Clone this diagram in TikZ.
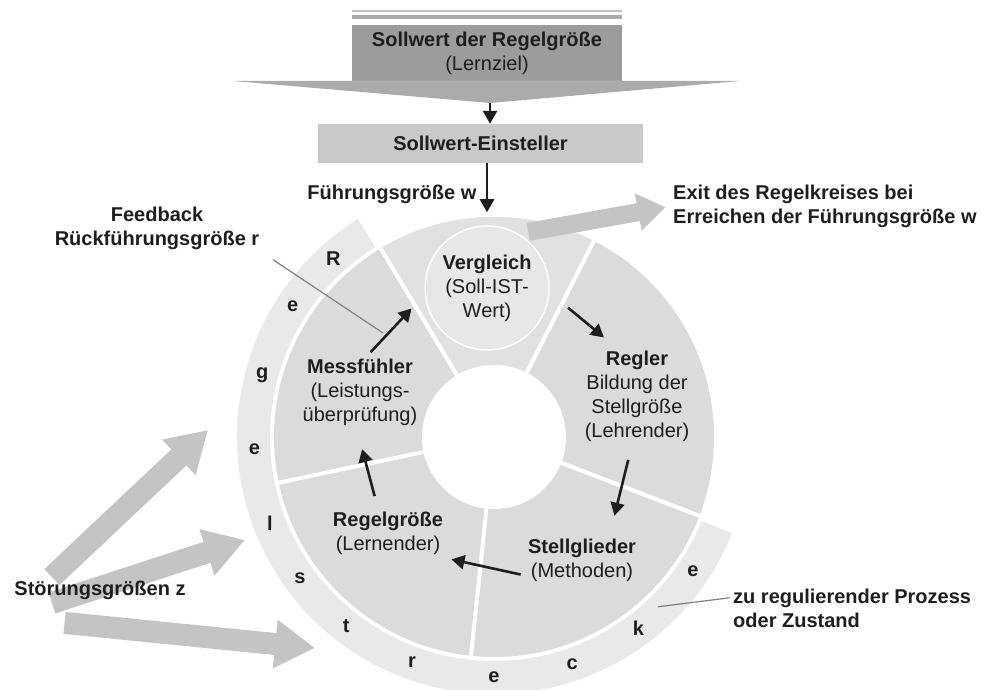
\documentclass[tikz,border=0pt]{standalone}
\usepackage{fontspec}
\setmainfont{Liberation Sans}
\usetikzlibrary{arrows.meta,calc,backgrounds}
\definecolor{ringgray}{HTML}{E9E9E9}
\definecolor{secgray}{HTML}{DBDBDB}
\definecolor{vglgray}{HTML}{E1E1E1}
\definecolor{circgray}{HTML}{E7E7E7}
\definecolor{arrgray}{HTML}{C4C4C4}
\definecolor{topgray}{HTML}{9C9C9C}
\definecolor{winggray}{HTML}{ABABAB}
\definecolor{boxgray}{HTML}{C9C9C9}
\definecolor{ink}{HTML}{1E1E1E}
\begin{document}
\begin{tikzpicture}[x=1pt, y=1pt,
    every node/.style={font=\fontsize{20}{24}\selectfont, text=ink, align=center},
    bf/.style={font=\fontsize{20}{24}\selectfont\bfseries},
    blk/.style={draw=ink, line width=2.6pt, -{Triangle[length=13pt,width=14pt]}},
    fat/.style={draw=arrgray, line width=22pt, -{Triangle[length=40pt,width=46pt]}},
    exitarr/.style={draw=arrgray, line width=18pt, -{Triangle[length=28pt,width=36pt]}},
    gap/.style={draw=white, line width=4pt},
    pin/.style={draw=gray, line width=1.2pt}]
    \useasboundingbox (0,0) rectangle (986,690);
    \coordinate (C) at (494,253);
    \fill[ringgray] ($(C)+(122:257)$) arc[start angle=122, end angle=338, radius=257pt]
        -- ($(C)+(338:224)$) arc[start angle=338, end angle=122, radius=224pt] -- cycle;
    \fill[secgray] (C) circle[radius=220pt];
    \fill[vglgray] (C) -- ($(C)+(63:220)$) arc[start angle=63, end angle=121, radius=220pt]
        -- cycle;
    \draw[gap] (C) -- ($(C)+(63:222)$) (C) -- ($(C)+(121:222)$) (C) -- ($(C)+(192:222)$)
        (C) -- ($(C)+(264:222)$) (C) -- ($(C)+(339:222)$);
    \fill[white] (C) circle[radius=72pt];

    \node[bf] (St1) at ($(C)+(132:240)$) {R};
    \node[bf] (St2) at ($(C)+(147:240)$) {e};
    \node[bf] (St3) at ($(C)+(165:240)$) {g};
    \node[bf] (St4) at ($(C)+(183:240)$) {e};
    \node[bf] (St5) at ($(C)+(201:240)$) {l};
    \node[bf] (St6) at ($(C)+(216:240)$) {s};
    \node[bf] (St7) at ($(C)+(232:240)$) {t};
    \node[bf] (St8) at ($(C)+(250:240)$) {r};
    \node[bf] (St9) at ($(C)+(270:240)$) {e};
    \node[bf] (St10) at ($(C)+(289:240)$) {c};
    \node[bf] (St11) at ($(C)+(307:240)$) {k};
    \node[bf] (St12) at ($(C)+(326:240)$) {e};

    \node[circle, minimum size=124pt, inner sep=0pt, fill=circgray, draw=white,
        line width=1.5pt] (Vgl) at (487,402) {\textbf{Vergleich}\\(Soll-IST-\\Wert)};
    \node (Rgl) at (637,293.5) {\textbf{Regler}\\Bildung der\\Stellgröße\\(Lehrender)};
    \node (Stg) at (582,130) {\textbf{Stellglieder}\\(Methoden)};
    \node (Rgr) at (388,156.5) {\textbf{Regelgröße}\\(Lernender)};
    \node (Msf) at (360,298) {\textbf{Messfühler}\\(Leistungs-\\überprüfung)};

    \node[bf] (Fb) at (157,462) {Feedback\\Rückführungsgröße r};
    \coordinate (FbEnd) at (383,357);
    \draw[pin, shorten <=12pt] (Fb.south east) -- (FbEnd);

    \draw[blk, shorten <=24pt, shorten >=16pt] (Vgl.-4) -- (Rgl.113);
    \draw[blk, shorten <=15pt, shorten >=20pt] (Rgl.264) -- (Stg.42);
    \draw[blk, shorten <=4pt, shorten >=5pt] (Stg.195) -- (Rgr.-23);
    \draw[blk, shorten <=13pt, shorten >=21pt] (Rgr.112) -- (Msf.265);
    \draw[blk, shorten <=4pt, shorten >=19pt] (Msf.78) -- (Vgl.186);

    \node[fill=topgray, minimum width=270pt, minimum height=56pt] (Sw) at (487,637)
        {\textbf{Sollwert der Regelgröße}\\(Lernziel)};
    \draw[draw=lightgray, line width=1.6pt] ([yshift=14pt]Sw.north west)
        -- ([yshift=14pt]Sw.north east);
    \draw[draw=winggray, line width=3.5pt] ([yshift=8pt]Sw.north west)
        -- ([yshift=8pt]Sw.north east);
    \coordinate (SwTip) at (490,587);
    \fill[winggray] (233,609) -- (740,609) -- (SwTip) -- cycle;
    \node[fill=boxgray, minimum width=325pt, minimum height=39pt] (SwE) at (480.5,546.5)
        {\textbf{Sollwert-Einsteller}};
    \draw[blk] (SwTip) -- (SwTip |- SwE.north);
    \draw[blk, shorten >=13pt] (Vgl.north |- SwE.south) -- (Vgl.north)
        node[bf, midway, left, xshift=-6pt] (Fw) {Führungsgröße w};

    \node[bf, anchor=west, align=left] (Exit) at (669.7,483.5)
        {Exit des Regelkreises bei\\Erreichen der Führungsgröße w};
    \draw[exitarr, shorten <=10pt, shorten >=4pt] (Vgl.60) -- (Exit.west);

    \node[bf, anchor=west, align=left] (Proz) at (729.7,81.5)
        {zu regulierender Prozess\\oder Zustand};
    \coordinate (StrPt) at ($(C)+(314:236)$);
    \draw[pin] (Proz.175) -- (StrPt);

    \node[bf] (Stz) at (100,100) {Störungsgrößen z};
    \coordinate (Z1) at (208,260);
    \coordinate (Z2) at (245,150);
    \coordinate (Z3) at (315,42);
    \begin{scope}[on background layer]
        \draw[fat] (Stz.165) -- (Z1);
        \draw[fat] (Stz.195) -- (Z2);
        \draw[fat] ([yshift=-20pt]Stz.200) -- (Z3);
    \end{scope}
\end{tikzpicture}
\end{document}
